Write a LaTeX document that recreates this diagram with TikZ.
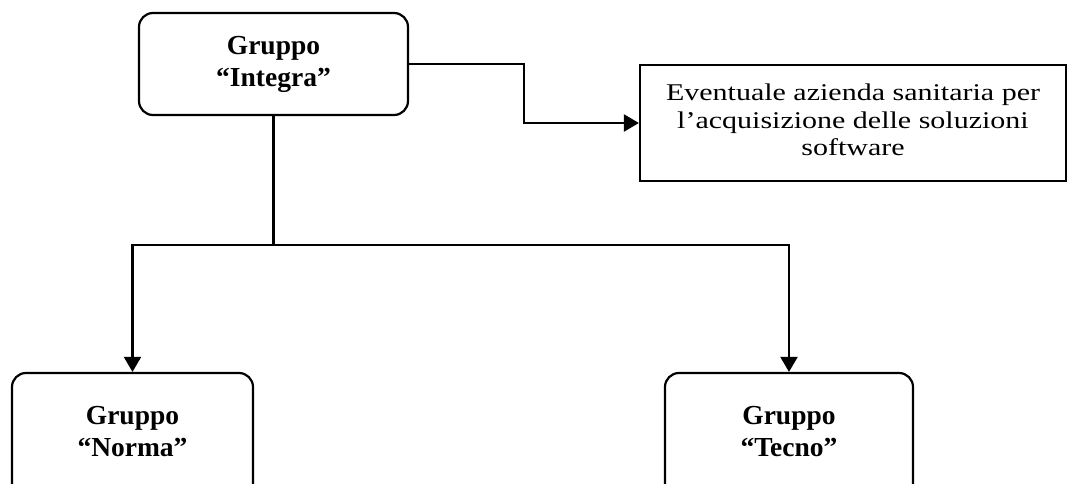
\documentclass[tikz,border=0pt]{standalone}
\usepackage{fontspec}
\setmainfont{Liberation Serif}
\newfontfamily\widefont{Liberation Serif}[FakeStretch=1.25]
\usetikzlibrary{arrows.meta}
\begin{document}
\begin{tikzpicture}[x=1pt,y=-1pt,
  line width=2.2pt,
  grp/.style={draw, rounded corners=14pt, align=center, inner sep=0pt,
    font=\fontsize{27.5}{32}\selectfont\bfseries},
  info/.style={draw, align=center, inner sep=0pt,
    font=\widefont\fontsize{24}{27.5}\selectfont},
  arr/.style={-{Triangle[length=15pt,width=17pt]}}]
\useasboundingbox (0,0) rectangle (1072,484);
\fill[white] (0,0) rectangle (1072,484);
\clip (0,0) rectangle (1072,484);
\node[grp, minimum width=269pt, minimum height=102pt] (int) at (273.5,64) {Gruppo\\“Integra”};
\node[info, minimum width=426pt, minimum height=116pt] (az) at (853,123) {Eventuale azienda sanitaria per\\l’acquisizione delle soluzioni\\software\rule[-6pt]{0pt}{6pt}};
\node[grp, minimum width=241pt, minimum height=130pt] (norma) at (132.5,438) {Gruppo\\“Norma”\rule[-14pt]{0pt}{14pt}};
\node[grp, minimum width=248pt, minimum height=130pt] (tecno) at (789,438) {Gruppo\\“Tecno”\rule[-14pt]{0pt}{14pt}};
\draw[arr] (int.east) -- ++(115,0) coordinate (bend) |- (az.west);
\draw (int.south) -- ++(0,129) coordinate (j);
\draw[arr] (j) -| (norma.north);
\draw[arr] (j) -| (tecno.north);
\end{tikzpicture}
\end{document}
